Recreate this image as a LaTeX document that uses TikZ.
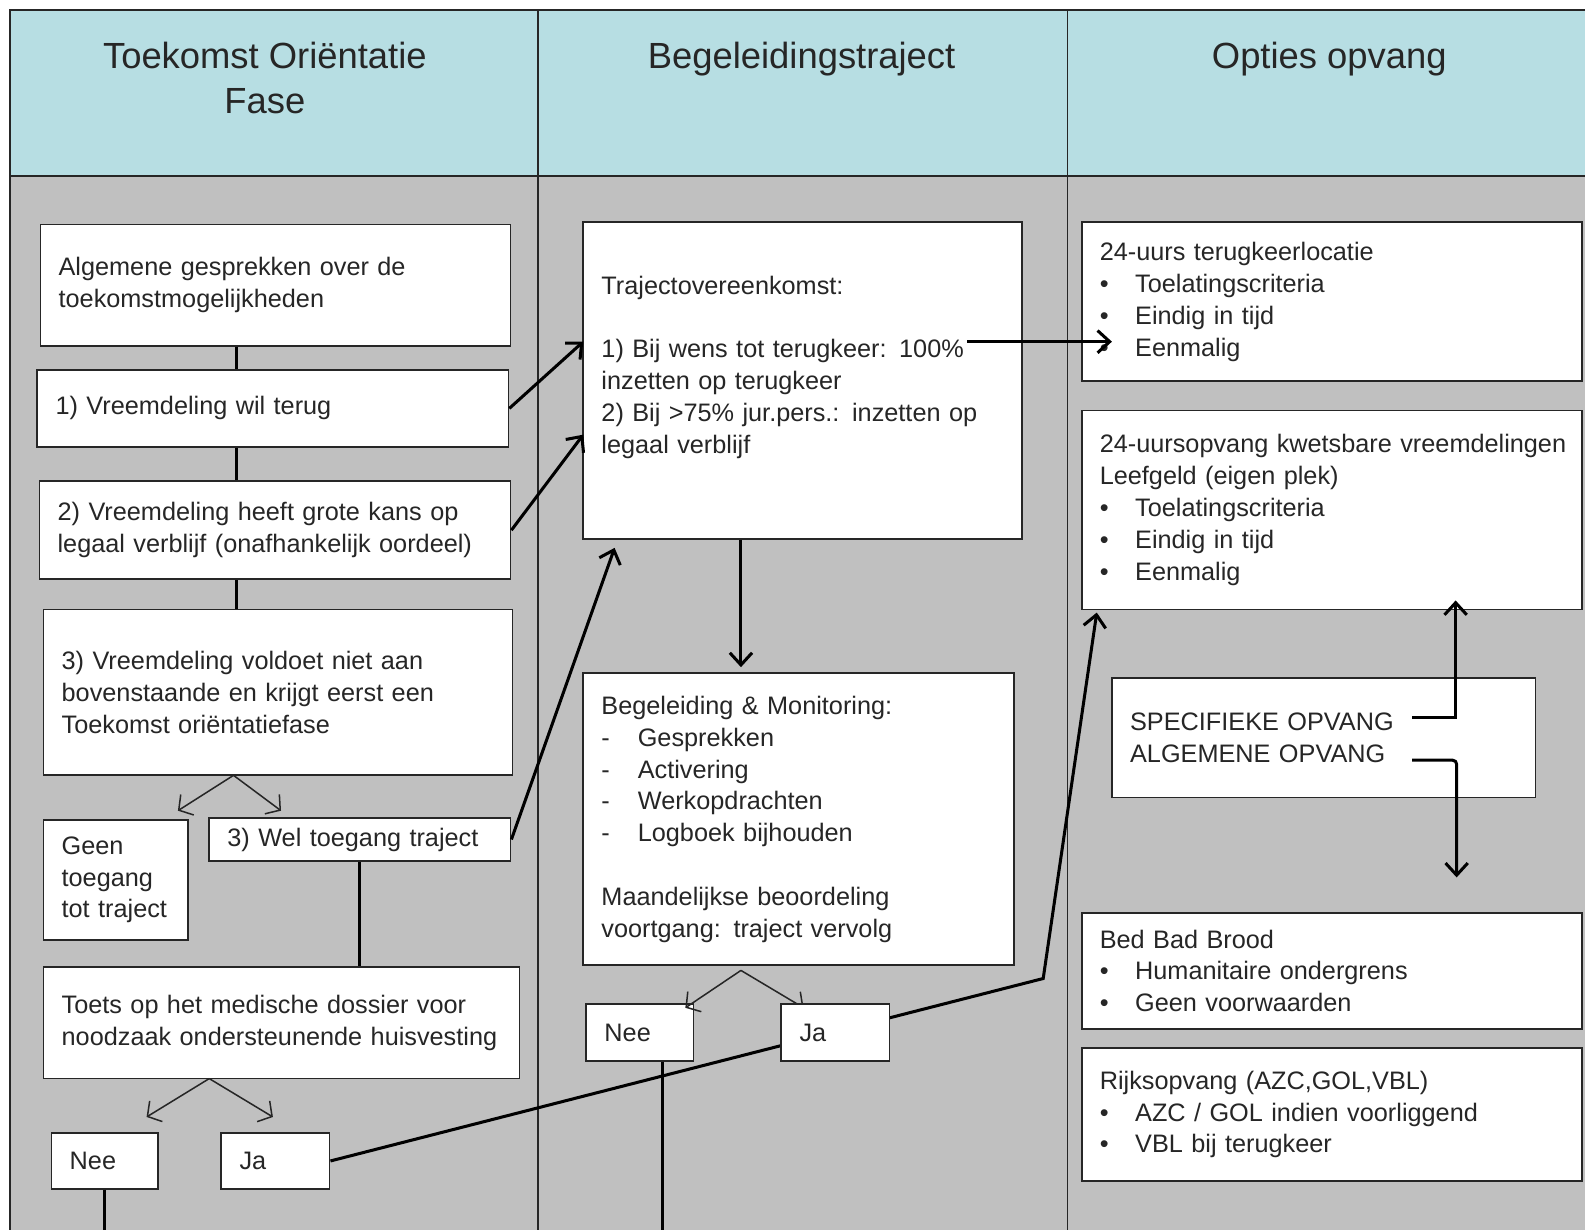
\documentclass[tikz,border=0pt]{standalone}
\usepackage{fontspec}
\setmainfont{Liberation Sans}
\usetikzlibrary{arrows.meta}

\definecolor{headblue}{RGB}{183,222,227}
\definecolor{panelgrey}{RGB}{192,192,192}
\definecolor{inkgrey}{RGB}{38,38,38}
\newcommand{\blt}{\makebox[35pt][l]{\textbullet}}
\newcommand{\dsh}{\makebox[36pt][l]{-}}

\begin{document}
\begin{tikzpicture}[x=1pt,y=-1pt,
    box/.style={draw=inkgrey,fill=white,line width=1.8pt,align=left,inner xsep=18pt,inner ysep=0pt,text=inkgrey,font=\fontsize{25}{31.5}\selectfont},
    head/.style={text=inkgrey,align=center,font=\fontsize{36}{45}\selectfont},
    link/.style={draw=black,line width=3pt},
    flow/.style={draw=black,line width=3pt,-{Straight Barb[length=12pt,width=22pt]}},
    split/.style={draw=inkgrey,line width=1.5pt,-{Straight Barb[length=10pt,width=24pt]}}]
            \useasboundingbox (0,0) rectangle (1568,1216);
            \fill[headblue] (10,10) rectangle (1580,174);
            \fill[panelgrey] (10,174) rectangle (1580,1230);
            \draw[inkgrey,line width=1.5pt] (10,1230) -- (10,10) -- (1580,10);
            \draw[inkgrey,line width=1.5pt] (10,174) -- (1580,174);
            \draw[inkgrey,line width=1.5pt] (532,10) -- (532,1230) (1056,10) -- (1056,1230);
            \node[head] (hfase) at (262,77) {Toekomst Oriëntatie\\Fase};
            \node[head,anchor=base] (htraject) at (793,68) {Begeleidingstraject};
            \node[head,anchor=base] (hopvang) at (1315,68) {Opties opvang};
            \begin{scope}[every node/.style={box}]
                \node[text width=429pt,minimum height=120pt] (algemeen) at (272.5,282) {Algemene gesprekken over de\\toekomstmogelijkheden};
                \node[text width=430pt,minimum height=76pt] (terug) at (270,404) {1) Vreemdeling wil terug};
                \node[text width=430pt,minimum height=97pt] (kans) at (272,524.5) {2) Vreemdeling heeft grote kans op\\legaal verblijf (onafhankelijk oordeel)};
                \node[text width=428pt,minimum height=164pt] (voldoet) at (275,685) {3) Vreemdeling voldoet niet aan\\bovenstaande en krijgt eerst een\\Toekomst oriëntatiefase};
                \node[text width=107pt,minimum height=119pt] (geen) at (114.5,870.5) {Geen\\toegang\\tot traject};
                \node[text width=262pt,minimum height=43pt] (toegang) at (356,830.5) {3) Wel toegang traject};
                \node[text width=435pt,minimum height=110pt] (toets) at (278.5,1012) {Toets op het medische dossier voor\\noodzaak ondersteunende huisvesting};
                \node[text width=69pt,minimum height=55pt] (neeL) at (103.5,1148.5) {Nee};
                \node[text width=71pt,minimum height=55pt] (jaL) at (272.5,1148.5) {Ja};
                \node[text width=398pt,minimum height=313pt] (traject) at (794,376.5) {Trajectovereenkomst:\\[31.5pt]1) Bij wens tot terugkeer: 100\%\\inzetten op terugkeer\\2) Bij >75\% jur.pers.: inzetten op\\legaal verblijf\\\mbox{}};
                \node[text width=390pt,minimum height=289pt] (begeleiding) at (790,810.5) {Begeleiding \& Monitoring:\\\dsh Gesprekken\\\dsh Activering\\\dsh Werkopdrachten\\\dsh Logboek bijhouden\\[31.5pt]Maandelijkse beoordeling\\voortgang: traject vervolg};
                \node[text width=70pt,minimum height=57pt] (neeM) at (633,1021.5) {Nee};
                \node[text width=459pt,minimum height=157pt] (terugkeer) at (1317.5,298.5) {24-uurs terugkeerlocatie\\\blt Toelatingscriteria\\\blt Eindig in tijd\\\blt Eenmalig};
                \node[text width=459pt,minimum height=197pt] (kwetsbaar) at (1317.5,504.5) {\mbox{24-uursopvang kwetsbare vreemdelingen}\\Leefgeld (eigen plek)\\\blt Toelatingscriteria\\\blt Eindig in tijd\\\blt Eenmalig};
                \node[text width=383pt,minimum height=118pt] (specifiek) at (1309.5,730) {SPECIFIEKE OPVANG\\ALGEMENE OPVANG};
                \node[text width=459pt,minimum height=115pt] (bbb) at (1317.5,960.5) {Bed Bad Brood\\\blt Humanitaire ondergrens\\\blt Geen voorwaarden};
                \node[text width=459pt,minimum height=131pt] (rijk) at (1317.5,1102.5) {Rijksopvang (AZC,GOL,VBL)\\\blt AZC / GOL indien voorliggend\\\blt VBL bij terugkeer};
            \end{scope}
            \coordinate (spine) at (234,0);
            \coordinate (floor) at (0,1230);
            \coordinate (vsplit) at (231,767);
            \coordinate (vleft) at (176,802);
            \coordinate (vright) at (278,802);
            \coordinate (tsplit) at (207,1067);
            \coordinate (tleft) at (145,1105);
            \coordinate (tright) at (270,1105);
            \coordinate (bsplit) at (733,960);
            \coordinate (bleft) at (678,997);
            \coordinate (bright) at (795,997);
            \coordinate (tipterug) at (577,338);
            \coordinate (tipkans) at (577,430);
            \coordinate (tiptoegang) at (608,542);
            \coordinate (jk) at (733,660);
            \coordinate (needrop) at (655,1230);
            \coordinate (knik) at (1032,968);
            \coordinate (tipkwets) at (1085,606);
            \coordinate (uit) at (957,338);
            \coordinate (tipterugkeer) at (1100,338);
            \coordinate (specA) at (1397,710);
            \coordinate (specUp) at (1440,594);
            \coordinate (algA) at (1397,752);
            \coordinate (algDown) at (1441,868);
            \draw[link] (algemeen.south -| spine) -- (terug.north -| spine);
            \draw[link] (terug.south -| spine) -- (kans.north -| spine);
            \draw[link] (kans.south -| spine) -- (voldoet.north -| spine);
            \draw[split] (vsplit) -- (vleft);
            \draw[split] (vsplit) -- (vright);
            \draw[link] (toegang.south) -- (toegang.south |- toets.north);
            \draw[split] (tsplit) -- (tleft);
            \draw[split] (tsplit) -- (tright);
            \draw[link] (neeL.south) -- (neeL.south |- floor);
            \draw[flow] (terug.east) -- (tipterug);
            \draw[flow] (kans.east) -- (tipkans);
            \draw[flow] (toegang.east) -- (tiptoegang);
            \draw[flow] (traject.south -| jk) -- (jk);
            \draw[split] (bsplit) -- (bleft);
            \draw[split] (bsplit) -- (bright);
            \draw[link] (neeM.south -| needrop) -- (needrop);
            \draw[flow] (jaL.east) -- (knik) -- (tipkwets);
            \draw[flow] (uit) -- (tipterugkeer);
            \draw[flow] (specA) -| (specUp);
            \draw[flow,rounded corners=4pt] (algA) -| (algDown);
            \node[box,text width=71pt,minimum height=57pt] (jaM) at (826.5,1021.5) {Ja};
        \end{tikzpicture}
\end{document}
